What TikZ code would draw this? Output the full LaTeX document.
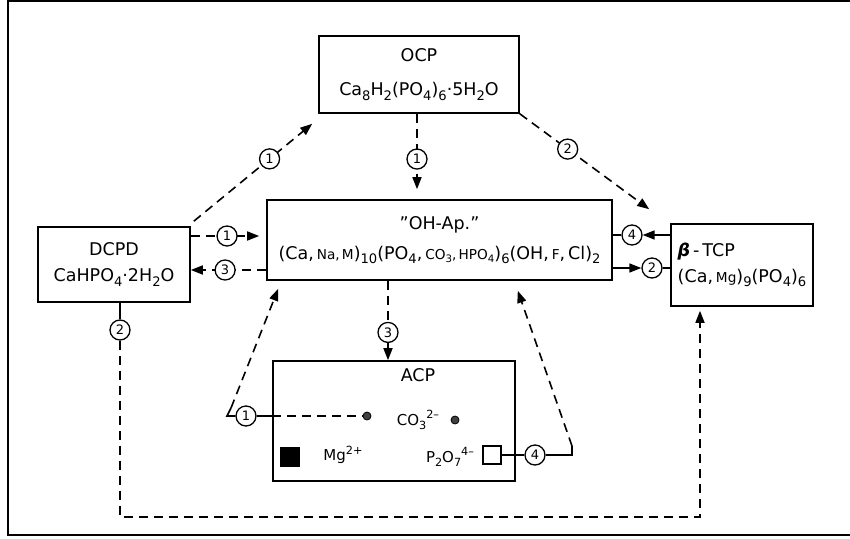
\documentclass[tikz,border=0pt]{standalone}
\usepackage{fontspec}
\setmainfont{DejaVu Sans}
\usetikzlibrary{arrows.meta,calc}

\newcommand{\chsub}[1]{\raisebox{-0.45ex}{\scalebox{0.75}{#1}}}
\newcommand{\chsup}[1]{\raisebox{0.8ex}{\scalebox{0.75}{#1}}}
\newcommand{\smf}[1]{\scalebox{0.78}{#1}}

\begin{document}
\begin{tikzpicture}[x=1pt,y=-1pt,
  box/.style={draw,solid,line width=1.6pt,inner sep=0pt,align=center,font=\fontsize{17.5}{26}\selectfont},
  lbl/.style={inner sep=0pt,font=\fontsize{17.5}{22}\selectfont},
  circ/.style={draw,solid,circle,fill=white,line width=1.3pt,minimum size=20pt,inner sep=0pt,font=\fontsize{13}{13}\selectfont},
  dsh/.style={line width=1.6pt,dash pattern=on 9pt off 6pt},
  sol/.style={line width=1.6pt},
  tip/.style={-{Triangle[length=12pt,width=9pt]}},
  dot/.style={circle,draw,solid,fill=black!75,line width=0.8pt,minimum size=8pt,inner sep=0pt}
]
\useasboundingbox (0,0) rectangle (850,538);
\draw[line width=2pt] (853,1) -- (8,1) -- (8,535) -- (853,535);

% boxes
\node[box,minimum width=200pt,minimum height=77pt] (ocp) at (419,74.5)
  {OCP\\[8pt]Ca\chsub{8}H\chsub{2}(PO\chsub{4})\chsub{6}·5H\chsub{2}O};
\node[box,minimum width=152pt,minimum height=75pt] (dcpd) at (114,264.5)
  {DCPD\\CaHPO\chsub{4}·2H\chsub{2}O};
\node[box,minimum width=345pt,minimum height=80pt] (ohap) at (439.5,240)
  {\char"22 OH-Ap.\char"22\\[4pt]{\fontsize{17.5}{20}\selectfont(Ca,\,\smf{Na,\,M})\chsub{10}(PO\chsub{4},\,\smf{CO\chsub{3},\,HPO\chsub{4}})\chsub{6}(OH,\,\smf{F},\,Cl)\chsub{2}}};
\node[box,minimum width=142pt,minimum height=82pt,align=left] (tcp) at (742,265)
  {\textbf{\textit{β}}\,-\,TCP\\(Ca,\,\smf{Mg})\chsub{9}(PO\chsub{4})\chsub{6}};
\node[box,minimum width=242pt,minimum height=120pt] (acp) at (394,421) {};

% ACP content
\node[lbl] (acpt) at (418,375) {ACP};
\node[dot] (dot1) at (367,416) {};
\node[lbl,font=\fontsize{15}{18}\selectfont] (co3) at (418,420) {CO\chsub{3}\chsup{2–}};
\node[dot] (dot2) at (455,420) {};
\node[fill=black,minimum size=20pt,inner sep=0pt] (sqf) at (290,457) {};
\node[lbl,font=\fontsize{15}{18}\selectfont] (mg) at (343,455) {Mg\chsup{2+}};
\node[lbl,font=\fontsize{15}{18}\selectfont] (p2o7) at (450,457) {P\chsub{2}O\chsub{7}\chsup{4–}};
\node[draw,solid,line width=1.6pt,minimum size=18pt,inner sep=0pt] (sqo) at (492,455) {};
\node[circ] (c4b) at (535,455) {4};
\node[circ] (c1b) at (246,416) {1};

% DCPD -> OCP
\draw[dsh,tip] ($(dcpd.north east)+(3,-5)$) -- node[circ,pos=0.64] (c1a) {1} ($(ocp.south west)+(-6,10)$);
% OCP -> OH-Ap
\draw[dsh,tip] ($(ocp.south)+(-2,0)$) -- node[circ,pos=0.6] (c1d) {1} ($(ohap.north)+(-22.5,-10)$);
% OCP -> TCP
\draw[dsh,tip] (ocp.south east) -- node[circ,pos=0.37] (c2a) {2} ($(tcp.north west)+(-21,-14)$);
% DCPD -> OH-Ap
\draw[dsh,tip] ($(dcpd.east)+(0,-28.5)$) -- node[circ,pos=0.53] (c1c) {1} ($(ohap.west)+(-7,-4)$);
% OH-Ap -> DCPD
\draw[dsh,tip] ($(ohap.west)+(0,30)$) -- node[circ,pos=0.545] (c3a) {3} ($(dcpd.east)+(0,5.5)$);
% TCP -> OH-Ap
\node[circ] (c4a) at (632,235) {4};
\draw[sol,tip] (tcp.west |- c4a) -- (c4a);
\draw[sol] (c4a) -- (ohap.east |- c4a);
% OH-Ap -> TCP
\node[circ] (c2b) at (652,268) {2};
\draw[sol,tip] (ohap.east |- c2b) -- (c2b);
\draw[sol] (c2b) -- (tcp.west |- c2b);
% OH-Ap -> ACP
\draw[dsh,tip] ($(ohap.south)+(-51.5,0)$) -- node[circ,pos=0.65] (c3b) {3} ($(acp.north)+(-6,0)$);
% DCPD -> TCP
\node[circ] (c2c) at (120,330) {2};
\draw[sol] (dcpd.south -| c2c) -- (c2c);
\coordinate (bl) at (120,517);
\coordinate (br) at (700,517);
\draw[dsh,tip] (c2c) -- (bl) -- (br) -- ($(tcp.south -| br)+(0,4)$);
% ACP left (CO3) -> OH-Ap
\draw[sol] (c1b) -- (acp.west |- c1b);
\draw[dsh] (acp.west |- c1b) -- (dot1);
\coordinate (hk1) at (227,416);
\coordinate (hk2) at (231,408);
\draw[sol] (c1b) -- (hk1) -- (hk2);
\draw[dsh,tip] (hk2) -- ($(ohap.south west)+(12,8)$);
% ACP right (P2O7) -> OH-Ap
\draw[sol] (sqo) -- (c4b);
\coordinate (hr1) at (572,455);
\coordinate (hr2) at (572,446);
\draw[sol] (c4b) -- (hr1) -- (hr2);
\draw[dsh,tip] (hr2) -- ($(ohap.south east)+(-95,10)$);
\end{tikzpicture}
\end{document}
